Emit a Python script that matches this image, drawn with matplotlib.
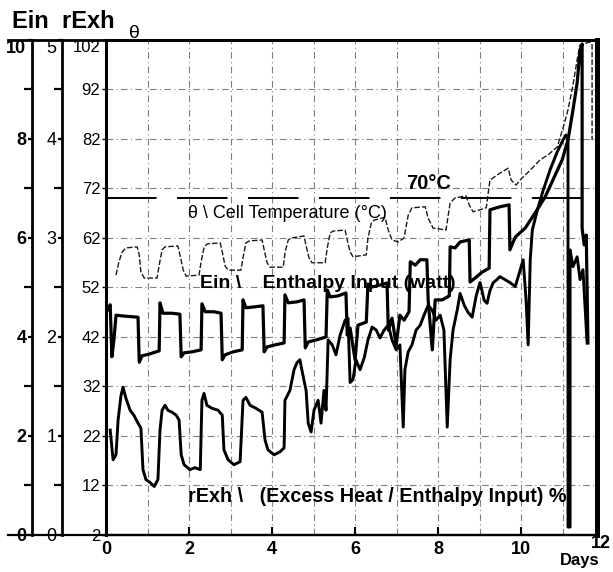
import matplotlib.pyplot as plt
from matplotlib.ticker import FixedLocator, MultipleLocator

plt.rcParams['font.family'] = ['Liberation Sans', 'DejaVu Sans']

# cell temperature theta (day, deg C)
theta_days = [0.24, 0.31, 0.39, 0.48, 0.75, 0.80, 0.84, 0.92, 1.23, 1.28, 1.35, 1.42,
              1.73, 1.78, 1.86, 1.93, 2.24, 2.29, 2.36, 2.43, 2.75, 2.80, 2.87, 2.94,
              3.25, 3.30, 3.37, 3.45, 3.76, 3.81, 3.88, 3.95, 4.27, 4.31, 4.39, 4.46,
              4.77, 4.82, 4.89, 4.96, 5.28, 5.33, 5.40, 5.47, 5.76, 5.81, 5.88, 5.95,
              6.27, 6.31, 6.39, 6.46, 6.72, 6.80, 6.89, 7.04, 7.18, 7.28, 7.37, 7.69,
              7.76, 7.88, 8.05, 8.19, 8.29, 8.41, 8.67, 8.75, 8.84, 9.01, 9.16, 9.25,
              9.49, 9.69, 9.76, 9.88, 10.02, 10.22, 10.46, 10.65, 10.87, 11.01, 11.13,
              11.25, 11.35, 11.42, 11.66, 11.71, 11.71]
theta_vals = [54.5, 57.2, 59.2, 60.0, 60.2, 58.6, 55.1, 53.9, 53.9, 56.5, 59.6, 60.2,
              60.4, 58.6, 55.5, 54.3, 54.5, 57.2, 60.0, 60.8, 61.0, 59.2, 56.3, 55.5,
              55.5, 58.0, 61.0, 61.4, 61.6, 59.6, 57.0, 56.1, 56.1, 59.0, 61.6, 62.0,
              62.4, 60.4, 58.0, 57.0, 57.0, 60.0, 63.0, 63.4, 63.6, 61.6, 59.2, 58.2,
              58.6, 62.0, 65.0, 65.6, 66.2, 63.6, 61.6, 61.2, 62.0, 66.6, 68.1, 68.3,
              66.0, 64.0, 63.8, 63.6, 69.1, 70.1, 70.5, 68.7, 67.3, 67.7, 68.1, 73.7,
              75.1, 76.1, 73.7, 72.7, 74.1, 75.7, 77.8, 78.8, 80.4, 84.2, 87.9,
              92.9, 98.0, 101.0, 101.6, 101.0, 81.8]

# enthalpy input Ein (day, W)
ein_days = [0.05, 0.10, 0.14, 0.19, 0.24, 0.46, 0.77, 0.80, 0.87, 1.06, 1.28, 1.30,
            1.37, 1.59, 1.78, 1.81, 1.88, 2.07, 2.29, 2.31, 2.39, 2.60, 2.77, 2.80,
            2.87, 3.06, 3.28, 3.30, 3.37, 3.59, 3.78, 3.81, 3.88, 4.07, 4.29, 4.31,
            4.39, 4.60, 4.77, 4.80, 4.87, 5.06, 5.30, 5.33, 5.40, 5.59, 5.78, 5.81,
            5.88, 6.00, 6.07, 6.27, 6.31, 6.41, 6.60, 6.77, 6.80, 6.89, 6.99, 7.08,
            7.18, 7.30, 7.33, 7.45, 7.57, 7.73, 7.76, 7.86, 7.93, 8.10, 8.27, 8.29,
            8.41, 8.53, 8.75, 8.77, 8.89, 9.06, 9.23, 9.25, 9.49, 9.71, 9.73, 9.86,
            10.10, 10.34, 10.58, 10.82, 10.99, 11.13, 11.25, 11.35, 11.42, 11.47,
            11.47, 11.52, 11.57, 11.61]
ein_vals = [4.55, 4.65, 3.60, 3.94, 4.44, 4.42, 4.40, 3.49, 3.62, 3.66, 3.72, 4.69,
            4.48, 4.48, 4.46, 3.60, 3.68, 3.70, 3.74, 4.67, 4.51, 4.51, 4.48, 3.54,
            3.64, 3.70, 3.74, 4.75, 4.59, 4.61, 4.63, 3.70, 3.80, 3.84, 3.88, 4.85,
            4.69, 4.71, 4.75, 3.78, 3.90, 3.94, 4.00, 4.95, 4.81, 4.83, 4.89, 4.04,
            4.18, 3.54, 4.24, 4.30, 5.07, 5.01, 5.05, 5.09, 4.14, 4.38, 3.84, 4.44,
            4.34, 4.51, 5.52, 5.45, 5.56, 5.56, 4.75, 3.74, 4.75, 4.75, 4.83, 5.82,
            5.80, 5.92, 5.96, 5.11, 5.19, 5.31, 5.39, 6.57, 6.63, 6.67, 5.76, 6.02,
            6.20, 6.51, 6.83, 7.27, 7.58, 7.98, 8.59, 9.13, 9.80, 9.92,
            6.20, 5.86, 6.06, 3.88]

# excess heat / enthalpy input rExh (day, axis units)
rexh_days = [0.10, 0.17, 0.24, 0.29, 0.36, 0.41, 0.48, 0.58, 0.67, 0.77, 0.84, 0.89,
             0.96, 1.06, 1.16, 1.25, 1.30, 1.35, 1.42, 1.49, 1.59, 1.69, 1.76, 1.81,
             1.88, 2.02, 2.14, 2.27, 2.31, 2.36, 2.43, 2.55, 2.70, 2.80, 2.84, 2.94,
             3.08, 3.23, 3.30, 3.37, 3.47, 3.61, 3.76, 3.83, 3.90, 4.05, 4.19, 4.29,
             4.31, 4.43, 4.53, 4.60, 4.67, 4.75, 4.82, 4.87, 4.94, 5.01, 5.11, 5.18,
             5.25, 5.30, 5.35, 5.45, 5.54, 5.64, 5.76, 5.83, 5.88, 5.95, 6.02, 6.12,
             6.22, 6.31, 6.41, 6.51, 6.60, 6.70, 6.80, 6.89, 6.99, 7.08, 7.16, 7.20,
             7.28, 7.37, 7.47, 7.57, 7.66, 7.76, 7.86, 7.95, 8.05, 8.14, 8.22, 8.29,
             8.36, 8.46, 8.53, 8.63, 8.72, 8.82, 8.92, 9.01, 9.11, 9.18, 9.25, 9.33,
             9.42, 9.49, 9.61, 9.73, 9.86, 9.98, 10.05, 10.12, 10.17, 10.22, 10.27,
             10.39, 10.53, 10.70, 10.87, 11.01, 11.08, 11.13, 11.13, 11.18, 11.18,
             11.25, 11.35, 11.42, 11.49, 11.59]
rexh_vals = [1.06, 0.76, 0.81, 1.16, 1.41, 1.49, 1.38, 1.26, 1.21, 1.13, 1.08, 0.66,
             0.56, 0.53, 0.49, 0.56, 1.06, 1.26, 1.31, 1.26, 1.24, 1.21, 1.16, 0.81,
             0.71, 0.66, 0.68, 0.66, 1.36, 1.43, 1.31, 1.28, 1.26, 1.21, 0.86, 0.76,
             0.71, 0.74, 1.36, 1.39, 1.31, 1.28, 1.24, 0.96, 0.86, 0.81, 0.84, 0.88,
             1.36, 1.46, 1.67, 1.74, 1.77, 1.60, 1.46, 1.13, 1.04, 1.26, 1.36, 1.13,
             1.46, 1.26, 1.97, 1.92, 1.82, 2.02, 2.17, 2.19, 1.54, 1.57, 1.77, 1.67,
             1.79, 1.97, 2.10, 2.07, 1.99, 2.07, 2.12, 1.97, 1.87, 1.92, 1.09, 1.67,
             1.85, 1.92, 2.07, 2.12, 2.22, 2.32, 2.27, 2.17, 2.22, 2.07, 1.09, 1.77,
             2.07, 2.27, 2.44, 2.32, 2.25, 2.20, 2.42, 2.55, 2.37, 2.34, 2.47, 2.55,
             2.58, 2.61, 2.58, 2.55, 2.51, 2.68, 2.78, 2.37, 1.92, 2.78, 3.08,
             3.28, 3.48, 3.69, 3.87, 3.99, 4.04, 3.99, 0.08, 0.08, 2.88,
             2.71, 2.81, 2.58, 2.68, 1.94]

day_ticks = [0, 2, 4, 6, 8, 10]
theta_ticks = [2, 12, 22, 32, 42, 52, 62, 72, 82, 92, 102]
ein_ticks = [0, 2, 4, 6, 8, 10]
rexh_ticks = [0, 1, 2, 3, 4, 5]
boil_mark = 70

fig = plt.figure(figsize=(6.13, 5.72), dpi=100)
ax = fig.add_axes([0.173, 0.0647, 0.801, 0.8654])
ax.set_xlim(0, 11.83)
ax.set_ylim(2, 102)

# dash-dot grid, one line per day and per 10 degrees
ax.set_xticks(day_ticks)
ax.xaxis.set_minor_locator(MultipleLocator(1))
ax.set_yticks(theta_ticks)
grid_style = dict(color='0.5', lw=0.8, linestyle=(0, (6, 3, 1, 3)))
ax.grid(which='both', axis='x', **grid_style)
ax.grid(which='major', axis='y', **grid_style)
ax.set_axisbelow(True)

ax.tick_params(axis='x', which='major', direction='in', length=6, width=1.5,
               pad=4, labelsize=13)
ax.tick_params(axis='x', which='minor', length=0)
ax.tick_params(axis='y', direction='out', length=3, width=1, pad=1, labelsize=12)
for lbl in ax.get_xticklabels():
    lbl.set_fontweight('bold')
# top label sits just under the top rule
ax.yaxis.get_major_ticks()[-1].label1.set_verticalalignment('top')

ax.spines['left'].set_linewidth(2.2)
ax.spines['right'].set_linewidth(3.6)
ax.spines['top'].set_linewidth(2)
ax.spines['bottom'].set_linewidth(1.6)

# top and bottom rules run across the extra axes on the left
ax.plot([-0.2, 1], [1, 1], transform=ax.transAxes, clip_on=False, color='black', lw=2)
ax.plot([-0.2, 1], [0, 0], transform=ax.transAxes, clip_on=False, color='black', lw=1.6)


def side_axis(pos, lim, ticks, minor, bold):
    a = ax.twinx()
    a.set_ylim(*lim)
    for s in ['right', 'top', 'bottom']:
        a.spines[s].set_visible(False)
    a.spines['left'].set_visible(True)
    a.spines['left'].set_position(('axes', pos))
    a.spines['left'].set_linewidth(2)
    a.yaxis.set_ticks_position('left')
    a.yaxis.set_label_position('left')
    a.set_yticks(ticks)
    a.yaxis.set_minor_locator(FixedLocator(minor))
    a.tick_params(axis='y', which='major', length=3, width=1.6, pad=1, labelsize=13)
    a.tick_params(axis='y', which='minor', length=6, width=1.6)
    for lbl in a.get_yticklabels():
        lbl.set_fontweight('bold' if bold else 'normal')
    a.yaxis.get_major_ticks()[-1].label1.set_verticalalignment('top')
    return a


ax_ein = side_axis(-0.151, (0, 10), ein_ticks, [1, 3, 5, 7, 9], True)
ax_rexh = side_axis(-0.0896, (0, 5), rexh_ticks, [0.5, 1.5, 2.5, 3.5, 4.5], False)

# the three traces
ax.plot(theta_days, theta_vals, color='#1a1a1a', lw=1.0, linestyle=(0, (4, 1.5)))
ax_ein.plot(ein_days, ein_vals, color='black', lw=2.3)
ax_rexh.plot(rexh_days, rexh_vals, color='black', lw=2.1)

# 70 degree reference line
ax.axhline(boil_mark, color='black', lw=1.4, dashes=(26, 10.5))
ax.text(7.76, 73.1, '70°C', fontsize=14.5, fontweight='bold', ha='center', va='center')

ax.text(1.98, 67.0, 'θ \\ Cell Temperature (°C)', fontsize=13, va='center')
ax.text(2.27, 52.9, 'Ein \\    Enthalpy Input (watt)', fontsize=14,
        fontweight='bold', va='center')
ax.text(1.98, 9.7, 'rExh \\   (Excess Heat / Enthalpy Input) %', fontsize=14.2,
        fontweight='bold', va='center')

fig.text(12 / 613, 1 - 22 / 572, 'Ein  rExh', fontsize=17, fontweight='bold',
         va='center')
fig.text(134 / 613, 1 - 33 / 572, 'θ', fontsize=14, ha='center', va='center')
fig.text(601 / 613, 1 - 544 / 572, '12', fontsize=13, fontweight='bold',
         ha='center', va='center')
fig.text(580 / 613, 1 - 560 / 572, 'Days', fontsize=12, fontweight='bold',
         ha='center', va='center')

fig.savefig('out.png', dpi=100)
